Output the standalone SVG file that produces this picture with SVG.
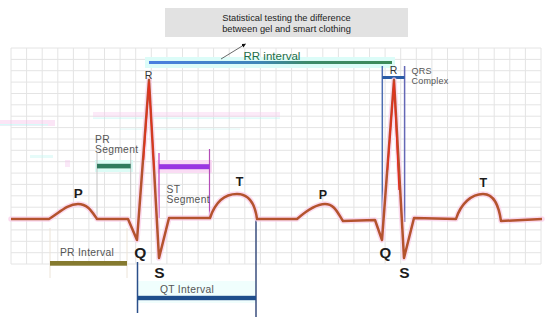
<svg xmlns="http://www.w3.org/2000/svg" width="550" height="326" viewBox="0 0 550 326">
<defs>
<linearGradient id="rrg" x1="0" y1="0" x2="1" y2="0">
<stop offset="0" stop-color="#4a7fe0"/>
<stop offset="0.45" stop-color="#3f86b8"/>
<stop offset="0.65" stop-color="#3d8b6a"/>
<stop offset="1" stop-color="#3c8a58"/>
</linearGradient>
<marker id="ah" viewBox="0 0 10 10" refX="9" refY="5" markerWidth="5" markerHeight="5" orient="auto">
<path d="M0,0 L10,5 L0,10 z" fill="#111"/>
</marker>
<style>
.grid{stroke:#e4e4e4;stroke-width:1;fill:none}
.lbl{font-family:"Liberation Sans",Arial,sans-serif;font-size:10.3px;fill:#555;letter-spacing:0.3px}
.big{font-family:"Liberation Sans",Arial,sans-serif;font-weight:bold;fill:#1c1c1c;text-anchor:middle}
.rl{font-family:"Liberation Sans",Arial,sans-serif;font-size:10.5px;fill:#333;text-anchor:middle}
.glow{fill:none;stroke:#f9cfe9;stroke-width:5.5;stroke-linejoin:round;stroke-linecap:round;opacity:0.75}
.trace{fill:none;stroke:#b4532e;stroke-width:2.5;stroke-linejoin:round}
.spk{fill:none;stroke:#e2301e;stroke-width:1.3;stroke-linejoin:round}
</style>
</defs>
<rect width="550" height="326" fill="#fff"/>
<g id="grid">
<path class="grid" d="M11 48V264M26.6 48V264M42.2 48V264M57.8 48V264M73.4 48V264M88.9 48V264M104.5 48V264M120.1 48V264M135.7 48V264M151.3 48V264M166.9 48V264M182.5 48V264M198.1 48V264M213.6 48V264M229.2 48V264M244.8 48V264M260.4 48V264M276 48V264M291.6 48V264M307.2 48V264M322.8 48V264M338.4 48V264M353.9 48V264M369.5 48V264M385.1 48V264M400.7 48V264M416.3 48V264M431.9 48V264M447.5 48V264M463.1 48V264M478.7 48V264M494.2 48V264M509.8 48V264M525.4 48V264M541 48V264M11 48H541M11 59.4H541M11 70.7H541M11 82.1H541M11 93.5H541M11 104.8H541M11 116.2H541M11 127.6H541M11 139H541M11 150.3H541M11 161.7H541M11 173.1H541M11 184.4H541M11 195.8H541M11 207.2H541M11 218.6H541M11 229.9H541M11 241.3H541M11 252.7H541M11 264H541"/>
</g>
<g id="artifacts" opacity="0.4">
<rect x="0" y="120" width="55" height="6" fill="#f6c0ea"/>
<rect x="0" y="124" width="48" height="1.5" fill="#9ff5f0"/>
<rect x="93" y="112" width="187" height="5" fill="#f8cdee"/>
<rect x="93" y="117.5" width="187" height="1.3" fill="#a6f4f0"/>
<rect x="120" y="128.5" width="120" height="1.2" fill="#bff6f2"/>
<rect x="30" y="155" width="23" height="3" fill="#c3f7f2"/>
<rect x="65" y="160" width="5" height="7" fill="#f6c8ee"/>
</g>
<g id="title-box">
<rect x="165" y="8" width="243" height="29" fill="#e2e2e2"/>
<text x="286.5" y="20.5" font-family="'Liberation Sans',Arial,sans-serif" font-size="9.3" fill="#222" text-anchor="middle">Statistical testing the difference</text>
<text x="286.5" y="31.5" font-family="'Liberation Sans',Arial,sans-serif" font-size="9.3" fill="#222" text-anchor="middle">between gel and smart clothing</text>
</g>
<g id="rr-interval">
<rect x="145" y="57" width="250" height="11" fill="#dcfcf8"/>
<rect x="149" y="61" width="243" height="3" fill="url(#rrg)"/>
<text x="272" y="60" font-family="'Liberation Sans',Arial,sans-serif" font-size="11.5" fill="#1e6e48" text-anchor="middle">RR interval</text>
</g>
<g id="connectors">
<line x1="221" y1="59" x2="245.5" y2="44" stroke="#444" stroke-width="0.8" marker-end="url(#ah)"/>
</g>
<g id="pr-segment">
<rect x="95" y="160" width="38" height="12" fill="#dcfcf6"/>
<line x1="97" y1="153" x2="97" y2="218" stroke="#c4c4c4" stroke-width="1"/>
<line x1="130.7" y1="153" x2="130.7" y2="218" stroke="#c4c4c4" stroke-width="1"/>
<rect x="97" y="163.8" width="33.7" height="4.6" fill="#2f7a5e"/>
<text class="lbl" x="95" y="142.5">PR</text>
<text class="lbl" x="95" y="152.5">Segment</text>
</g>
<g id="st-segment">
<rect x="157" y="160" width="55" height="13" fill="#fadcf4"/>
<line x1="159" y1="153" x2="159" y2="218" stroke="#c23cc0" stroke-width="1.2"/>
<line x1="209.5" y1="149" x2="209.5" y2="217" stroke="#b44cb8" stroke-width="1.2"/>
<rect x="159" y="164.2" width="50.5" height="5" fill="#9a36e2"/>
<text class="lbl" x="166.5" y="193">ST</text>
<text class="lbl" x="166.5" y="203">Segment</text>
</g>
<g id="pr-interval">
<line x1="50" y1="228" x2="50" y2="278" stroke="#ece4d8" stroke-width="1"/>
<line x1="127" y1="228" x2="127" y2="278" stroke="#ece4d8" stroke-width="1"/>
<rect x="50" y="261" width="77" height="4.7" fill="#857a2f"/>
<text class="lbl" x="87" y="256" text-anchor="middle">PR Interval</text>
</g>
<g id="qt-interval">
<rect x="137" y="281" width="119" height="22" fill="#f0fefd"/>
<line x1="137.5" y1="262" x2="137.5" y2="313" stroke="#2a4f8a" stroke-width="1.5"/>
<line x1="256" y1="220" x2="256" y2="317" stroke="#3a4e7e" stroke-width="1.5"/>
<rect x="137.5" y="295.8" width="118.5" height="4.4" fill="#1f4e8c"/>
<text class="lbl" x="187" y="293" text-anchor="middle">QT Interval</text>
</g>
<g id="qrs-complex">
<line x1="382.3" y1="66" x2="382.3" y2="236" stroke="#4e6eb2" stroke-width="1.5"/>
<line x1="404.6" y1="66" x2="404.6" y2="222" stroke="#6468b6" stroke-width="1.5"/>
<rect x="382.3" y="76" width="22.3" height="3" fill="#2a5ca6"/>
<text class="rl" x="393.5" y="74">R</text>
<text x="411.5" y="73.5" font-family="'Liberation Sans',Arial,sans-serif" font-size="9" fill="#555" letter-spacing="0.2">QRS</text>
<text x="411.5" y="84" font-family="'Liberation Sans',Arial,sans-serif" font-size="9" fill="#555" letter-spacing="0.2">Complex</text>
</g>
<g id="ecg-trace">
<path class="glow" d="M11,219 L49,219 C60,212 68,204 78,204 C88,204 92,212 97,219 L128,219 L137,240 L149,80 L159,258 L169,218 L210,218 C216,200 226,194 237,194 C249,194 255,204 257,219 L297,219 C305,212 315,204 325,204 C335,204 338,214 343,221 L375,220 L382,240 L394,80 L404,258 L414,218 L456,219 C461,203 472,194 483,194 C495,194 499,207 501,221 L542,219"/>
<path class="trace" d="M11,219 L49,219 C60,212 68,204 78,204 C88,204 92,212 97,219 L128,219 L137,240 L149,80 L159,258 L169,218 L210,218 C216,200 226,194 237,194 C249,194 255,204 257,219 L297,219 C305,212 315,204 325,204 C335,204 338,214 343,221 L375,220 L382,240 L394,80 L404,258 L414,218 L456,219 C461,203 472,194 483,194 C495,194 499,207 501,221 L542,219"/>
<path class="spk" d="M143.5,160 L149,82 L154.2,170"/>
<path class="spk" d="M387.5,170 L394,82 L399,190"/>
</g>
<g id="wave-labels">
<text class="rl" x="148.5" y="78.5">R</text>
<text class="big" x="78.3" y="198" font-size="13.5">P</text>
<text class="big" x="239.5" y="186" font-size="12.5">T</text>
<text class="big" x="323" y="199" font-size="12.5">P</text>
<text class="big" x="483.3" y="186.5" font-size="12.5">T</text>
<text class="big" x="140.3" y="258" font-size="15.5">Q</text>
<text class="big" x="159.5" y="278" font-size="15.5">S</text>
<text class="big" x="385.3" y="258" font-size="15">Q</text>
<text class="big" x="404.5" y="278" font-size="15.5">S</text>
</g>
</svg>
